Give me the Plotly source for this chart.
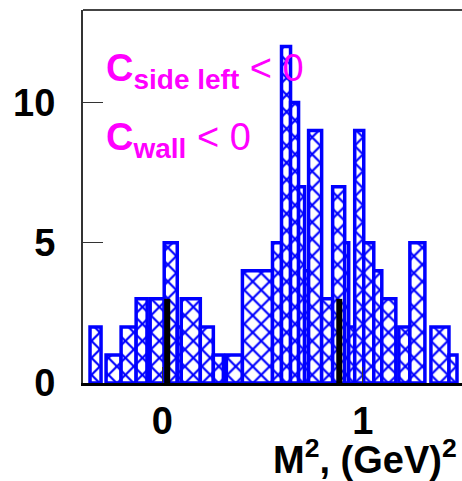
import plotly.graph_objects as go

# Histogram bins (M^2 in GeV^2, counts)
bin_lo = [-0.36, -0.28, -0.205, -0.13, -0.075, -0.06, 0.01, 0.075, 0.095, 0.19, 0.255,
          0.32, 0.40, 0.55, 0.595, 0.64, 0.68, 0.71, 0.73, 0.795, 0.85, 0.91, 0.93,
          0.96, 1.005, 1.055, 1.095, 1.18, 1.235, 1.34, 1.43]
bin_hi = [-0.305, -0.205, -0.13, -0.075, -0.06, 0.01, 0.075, 0.095, 0.19, 0.255, 0.305,
          0.40, 0.55, 0.595, 0.64, 0.68, 0.71, 0.73, 0.795, 0.85, 0.91, 0.93, 0.96,
          1.005, 1.055, 1.095, 1.165, 1.235, 1.31, 1.43, 1.47]
counts = [2, 1, 2, 3, 2, 3, 5, 2, 3, 2, 1,
          1, 4, 5, 12, 10, 7, 4, 9, 3, 7, 5, 2,
          9, 5, 4, 3, 2, 5, 2, 1]

# Black reference lines
ref_x = [0.025, 0.883]
ref_h = [3, 3]

x_ticks = [0, 1]
y_ticks = [0, 5, 10]

centers = [(a + b) / 2 for a, b in zip(bin_lo, bin_hi)]
widths = [b - a for a, b in zip(bin_lo, bin_hi)]

fig = go.Figure()
fig.add_trace(go.Bar(
    x=centers, y=counts, width=widths,
    marker=dict(color="white",
                line=dict(color="#0000ff", width=3.5),
                pattern=dict(shape="x", fgcolor="#0000ff", bgcolor="white", fgopacity=1,
                             size=12, solidity=0.33, fillmode="replace")),
    showlegend=False,
))
fig.add_trace(go.Bar(
    x=ref_x, y=ref_h, width=[0.03] * len(ref_x),
    marker=dict(color="black", line=dict(width=0)),
    showlegend=False,
))

W, H = 462, 481
L, R, T, B = 83, 0, 10, 98
fig.update_layout(
    width=W, height=H,
    margin=dict(l=L, r=R, t=T, b=B),
    barmode="overlay",
    plot_bgcolor="white", paper_bgcolor="white",
    font=dict(family="Liberation Sans", color="black"),
    xaxis=dict(range=[-0.395, 1.495], tickvals=x_ticks, ticktext=[str(v) for v in x_ticks],
               ticks="inside", ticklen=16, tickwidth=1, tickcolor="#333",
               showline=True, linecolor="black", linewidth=3, mirror=False,
               showgrid=False, zeroline=False,
               tickfont=dict(size=38, weight="bold", color="black"),
               ticklabelstandoff=2),
    yaxis=dict(range=[0, 13.3], tickvals=y_ticks, ticktext=[str(v) for v in y_ticks],
               ticks="inside", ticklen=20, tickwidth=1, tickcolor="#333",
               showline=True, linecolor="#333", linewidth=2,
               showgrid=False, zeroline=False,
               tickfont=dict(size=38, weight="bold", color="black"),
               ticklabelstandoff=18),
    shapes=[dict(type="line", xref="paper", yref="paper", x0=0, x1=1, y0=1, y1=1,
                 line=dict(color="#444", width=2))],
)

magenta = "#ff00ff"
fig.add_annotation(xref="paper", yref="paper", x=(104 - L) / (W - L), y=(383 - 71) / 373,
                   xanchor="left", yanchor="middle", showarrow=False,
                   text="<b>C</b><sub><b><span style='font-size:28px'>side left</span></b></sub> &lt; 0",
                   font=dict(size=38, color=magenta, family="Liberation Sans"))
fig.add_annotation(xref="paper", yref="paper", x=(104 - L) / (W - L), y=(383 - 140) / 373,
                   xanchor="left", yanchor="middle", showarrow=False,
                   text="<b>C</b><sub><b><span style='font-size:28px'>wall</span></b></sub> &lt; 0",
                   font=dict(size=38, color=magenta, family="Liberation Sans"))
fig.add_annotation(xref="paper", yref="paper", x=(459 - L) / (W - L), y=(383 - 457) / 373,
                   xanchor="right", yanchor="middle", showarrow=False,
                   text="<b>M<sup>2</sup>, (GeV)<sup>2</sup></b>",
                   font=dict(size=38, color="black", family="Liberation Sans"))

fig.write_html("out.html")
